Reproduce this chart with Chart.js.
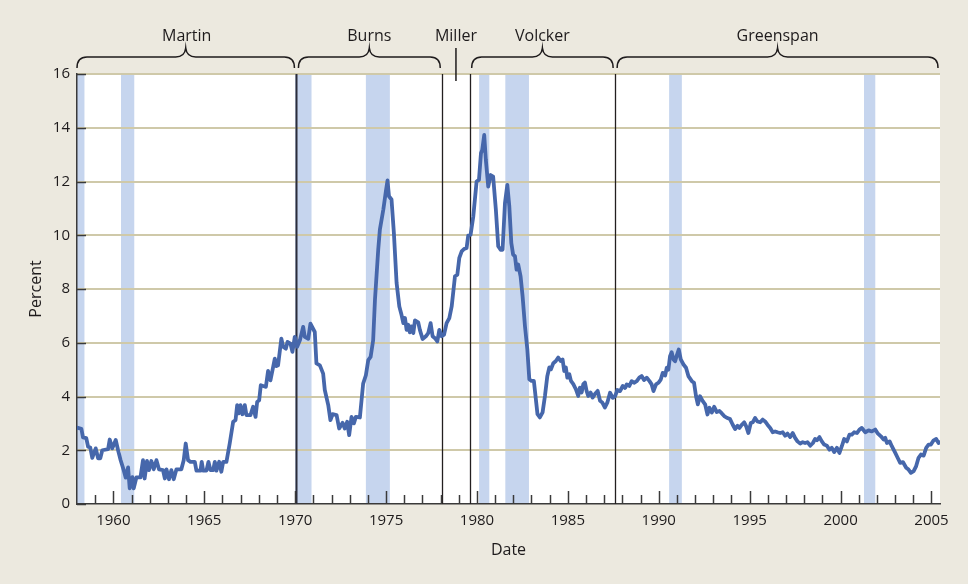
<!DOCTYPE html>
<html>
<head>
<meta charset="utf-8">
<script src="https://cdn.jsdelivr.net/npm/chart.js@4.4.1/dist/chart.umd.min.js"></script>
<style>
  body { margin: 0; background: #ece9df; }
  canvas { display: block; }
</style>
</head>
<body>
<canvas id="inflationChart" width="968" height="584"></canvas>
<script>
// decimal years and percent values
var dates = [
  1958.00, 1958.24, 1958.33, 1958.51, 1958.61, 1958.73, 1958.84, 1959.03, 1959.16, 1959.28,
  1959.39, 1959.71, 1959.80, 1959.94, 1960.13, 1960.26, 1960.40, 1960.57, 1960.68, 1960.81,
  1960.90, 1961.05, 1961.12, 1961.27, 1961.49, 1961.63, 1961.72, 1961.85, 1961.96, 1962.09,
  1962.22, 1962.37, 1962.51, 1962.73, 1962.83, 1962.92, 1963.06, 1963.19, 1963.32, 1963.47,
  1963.74, 1963.87, 1963.98, 1964.11, 1964.24, 1964.48, 1964.57, 1964.79, 1964.86, 1964.94,
  1965.12, 1965.23, 1965.34, 1965.49, 1965.58, 1965.67, 1965.82, 1965.94, 1966.04, 1966.22,
  1966.40, 1966.59, 1966.72, 1966.81, 1966.90, 1966.99, 1967.10, 1967.23, 1967.32, 1967.54,
  1967.69, 1967.82, 1967.91, 1968.02, 1968.11, 1968.28, 1968.39, 1968.51, 1968.64, 1968.79,
  1968.88, 1968.97, 1969.06, 1969.24, 1969.34, 1969.49, 1969.58, 1969.74, 1969.85, 1969.98,
  1970.11, 1970.26, 1970.44, 1970.53, 1970.72, 1970.84, 1971.08, 1971.17, 1971.36, 1971.54,
  1971.63, 1971.82, 1971.94, 1972.06, 1972.28, 1972.42, 1972.61, 1972.73, 1972.86, 1972.97,
  1973.10, 1973.23, 1973.34, 1973.56, 1973.74, 1973.89, 1974.02, 1974.15, 1974.29, 1974.39,
  1974.57, 1974.66, 1974.85, 1974.99, 1975.08, 1975.16, 1975.30, 1975.43, 1975.58, 1975.73,
  1975.85, 1975.95, 1976.04, 1976.13, 1976.22, 1976.31, 1976.40, 1976.50, 1976.59, 1976.77,
  1976.86, 1977.01, 1977.19, 1977.32, 1977.45, 1977.56, 1977.69, 1977.82, 1977.93, 1978.06,
  1978.19, 1978.33, 1978.48, 1978.61, 1978.79, 1978.92, 1979.03, 1979.16, 1979.29, 1979.43,
  1979.52, 1979.65, 1979.80, 1979.98, 1980.11, 1980.22, 1980.29, 1980.40, 1980.49, 1980.62,
  1980.75, 1980.89, 1981.04, 1981.17, 1981.30, 1981.41, 1981.54, 1981.67, 1981.78, 1981.89,
  1981.99, 1982.09, 1982.18, 1982.27, 1982.40, 1982.51, 1982.64, 1982.77, 1982.88, 1983.00,
  1983.13, 1983.24, 1983.33, 1983.46, 1983.61, 1983.74, 1983.87, 1983.98, 1984.07, 1984.20,
  1984.34, 1984.47, 1984.60, 1984.71, 1984.80, 1984.89, 1984.97, 1985.08, 1985.17, 1985.30,
  1985.44, 1985.57, 1985.66, 1985.76, 1985.85, 1985.94, 1986.03, 1986.12, 1986.25, 1986.36,
  1986.49, 1986.64, 1986.77, 1986.89, 1987.04, 1987.17, 1987.32, 1987.47, 1987.60, 1987.72,
  1987.87, 1988.02, 1988.15, 1988.24, 1988.38, 1988.51, 1988.64, 1988.79, 1988.93, 1989.06,
  1989.19, 1989.34, 1989.49, 1989.61, 1989.71, 1989.85, 1989.98, 1990.11, 1990.22, 1990.35,
  1990.44, 1990.53, 1990.62, 1990.71, 1990.81, 1990.90, 1990.99, 1991.10, 1991.21, 1991.36,
  1991.50, 1991.63, 1991.82, 1991.94, 1992.05, 1992.15, 1992.27, 1992.42, 1992.55, 1992.68,
  1992.79, 1992.92, 1993.05, 1993.19, 1993.34, 1993.47, 1993.60, 1993.74, 1993.92, 1994.07,
  1994.20, 1994.33, 1994.44, 1994.57, 1994.70, 1994.81, 1994.93, 1995.06, 1995.17, 1995.30,
  1995.43, 1995.58, 1995.72, 1995.85, 1995.98, 1996.13, 1996.27, 1996.40, 1996.53, 1996.68,
  1996.82, 1996.95, 1997.08, 1997.23, 1997.37, 1997.50, 1997.63, 1997.78, 1997.92, 1998.05,
  1998.18, 1998.33, 1998.48, 1998.60, 1998.70, 1998.84, 1998.97, 1999.10, 1999.25, 1999.39,
  1999.52, 1999.65, 1999.80, 1999.94, 2000.07, 2000.20, 2000.35, 2000.49, 2000.62, 2000.75,
  2000.90, 2001.04, 2001.17, 2001.36, 2001.54, 2001.72, 2001.91, 2002.03, 2002.22, 2002.37,
  2002.46, 2002.55, 2002.70, 2002.82, 2003.01, 2003.14, 2003.28, 2003.43, 2003.61, 2003.74,
  2003.87, 2004.02, 2004.16, 2004.29, 2004.42, 2004.57, 2004.71, 2004.84, 2004.97, 2005.12,
  2005.26, 2005.39, 2005.45
]
var rates = [
  2.84, 2.80, 2.48, 2.45, 2.13, 2.10, 1.72, 2.07, 1.70, 1.70,
  2.00, 2.04, 2.40, 2.07, 2.38, 2.00, 1.63, 1.26, 0.98, 1.36,
  0.58, 1.00, 0.58, 0.99, 0.99, 1.63, 0.95, 1.60, 1.26, 1.60,
  1.29, 1.63, 1.29, 1.26, 0.95, 1.29, 0.92, 1.26, 0.92, 1.29,
  1.29, 1.63, 2.25, 1.63, 1.57, 1.57, 1.24, 1.24, 1.57, 1.24,
  1.24, 1.57, 1.26, 1.26, 1.57, 1.24, 1.57, 1.20, 1.57, 1.57,
  2.25, 3.06, 3.12, 3.68, 3.37, 3.68, 3.34, 3.68, 3.31, 3.31,
  3.62, 3.24, 3.80, 3.86, 4.42, 4.38, 4.36, 4.95, 4.60, 5.10,
  5.41, 5.13, 5.16, 6.15, 5.85, 5.78, 6.03, 5.97, 5.66, 6.22,
  5.85, 6.09, 6.59, 6.22, 6.15, 6.71, 6.40, 5.23, 5.16, 4.85,
  4.24, 3.68, 3.12, 3.34, 3.31, 2.81, 3.02, 2.81, 3.06, 2.56,
  3.24, 3.00, 3.24, 3.22, 4.48, 4.79, 5.35, 5.47, 6.09, 7.60,
  9.47, 10.21, 10.96, 11.64, 12.04, 11.45, 11.33, 10.09, 8.22, 7.35,
  7.04, 6.73, 6.92, 6.48, 6.67, 6.39, 6.61, 6.36, 6.83, 6.76,
  6.48, 6.14, 6.24, 6.36, 6.73, 6.24, 6.17, 6.05, 6.48, 6.24,
  6.30, 6.73, 6.92, 7.35, 8.47, 8.53, 9.16, 9.40, 9.49, 9.53,
  9.99, 10.02, 10.71, 12.00, 12.06, 13.05, 13.17, 13.73, 12.80, 11.81,
  12.24, 12.18, 10.95, 9.59, 9.46, 9.46, 11.19, 11.87, 11.07, 9.71,
  9.28, 9.22, 8.72, 8.91, 8.47, 7.73, 6.62, 5.76, 4.64, 4.58,
  4.58, 3.90, 3.34, 3.22, 3.41, 4.02, 4.76, 5.08, 5.01, 5.24,
  5.32, 5.45, 5.32, 5.38, 4.95, 5.08, 4.70, 4.83, 4.58, 4.46,
  4.27, 4.02, 4.33, 4.15, 4.46, 4.52, 4.21, 4.02, 4.15, 3.96,
  4.09, 4.21, 3.84, 3.78, 3.59, 3.77, 4.14, 3.95, 4.01, 4.24,
  4.20, 4.39, 4.32, 4.45, 4.39, 4.57, 4.51, 4.57, 4.70, 4.76,
  4.61, 4.70, 4.57, 4.45, 4.20, 4.45, 4.51, 4.63, 4.88, 4.78,
  5.07, 5.00, 5.50, 5.65, 5.38, 5.31, 5.52, 5.75, 5.38, 5.19,
  5.07, 4.76, 4.57, 4.51, 4.01, 3.71, 4.01, 3.83, 3.71, 3.33,
  3.58, 3.40, 3.62, 3.42, 3.46, 3.37, 3.27, 3.21, 3.16, 2.95,
  2.79, 2.91, 2.83, 2.95, 3.04, 2.89, 2.64, 3.01, 3.04, 3.20,
  3.07, 3.04, 3.14, 3.07, 2.95, 2.83, 2.67, 2.70, 2.67, 2.64,
  2.67, 2.54, 2.62, 2.49, 2.64, 2.46, 2.33, 2.25, 2.30, 2.27,
  2.30, 2.17, 2.27, 2.42, 2.37, 2.49, 2.33, 2.21, 2.17, 2.02,
  2.09, 1.93, 2.09, 1.90, 2.15, 2.42, 2.33, 2.58, 2.58, 2.67,
  2.64, 2.77, 2.83, 2.67, 2.74, 2.70, 2.77, 2.64, 2.52, 2.40,
  2.46, 2.27, 2.33, 2.15, 1.90, 1.72, 1.53, 1.56, 1.35, 1.28,
  1.16, 1.22, 1.41, 1.72, 1.84, 1.80, 2.09, 2.21, 2.21, 2.37,
  2.42, 2.27, 2.30
]

var recessionStart = [1958.0, 1960.42, 1970.0, 1973.89, 1980.12, 1981.56, 1990.57, 2001.29]
var recessionEnd = [1958.41, 1961.15, 1970.9, 1975.21, 1980.68, 1982.86, 1991.27, 2001.91]

var chairNames = ['Martin', 'Burns', 'Miller', 'Volcker', 'Greenspan']
var chairStart = [1958.0, 1970.07, 1978.09, 1979.6, 1987.6]
var chairEnd = [1970.07, 1978.09, 1979.6, 1987.6, 2005.47]

var xTickLabels = [1960, 1965, 1970, 1975, 1980, 1985, 1990, 1995, 2000, 2005]
var yTickLabels = [0, 2, 4, 6, 8, 10, 12, 14, 16]

var xMin = 1958, xMax = 2005.47

var points = dates.map(function(d, i) { return { x: d, y: rates[i] } })

var fontFamily = "'Open Sans', 'Noto Sans', sans-serif"
var inkColor = '#1e1b1c'

function drawBrace(ctx, x1, x2) {
    var mid = (x1 + x2) / 2
    var yLine = 57, yEnd = 68, yPeak = 48, r = 10
    ctx.beginPath()
    ctx.moveTo(x1, yEnd)
    ctx.quadraticCurveTo(x1, yLine, x1 + r, yLine)
    ctx.lineTo(mid - r, yLine)
    ctx.quadraticCurveTo(mid - 1, yLine, mid, yPeak)
    ctx.quadraticCurveTo(mid + 1, yLine, mid + r, yLine)
    ctx.lineTo(x2 - r, yLine)
    ctx.quadraticCurveTo(x2, yLine, x2, yEnd)
    ctx.stroke()
}

const decorations = {
    id: 'decorations',
    beforeDraw(chart) {
        const ctx = chart.ctx
        const area = chart.chartArea
        const x = chart.scales.x
        ctx.save()
        ctx.fillStyle = '#ece9df'
        ctx.fillRect(0, 0, chart.width, chart.height)
        ctx.fillStyle = '#ffffff'
        ctx.fillRect(area.left, area.top, area.right - area.left, area.bottom - area.top)
        // recession bands
        ctx.fillStyle = '#c6d5ee'
        for (let i = 0; i < recessionStart.length; i++) {
            var a = x.getPixelForValue(recessionStart[i])
            var b = x.getPixelForValue(recessionEnd[i])
            ctx.fillRect(a, area.top, b - a, area.bottom - area.top)
        }
        ctx.restore()
    },
    beforeDatasetsDraw(chart) {
        const ctx = chart.ctx
        const area = chart.chartArea
        const x = chart.scales.x
        const y = chart.scales.y
        ctx.save()
        // chairman boundaries
        for (let i = 1; i < chairStart.length; i++) {
            var px = Math.round(x.getPixelForValue(chairStart[i])) + 0.5
            ctx.strokeStyle = i == 1 ? '#2b2d3a' : '#231f20'
            ctx.lineWidth = i == 1 ? 2 : 1.3
            ctx.beginPath()
            ctx.moveTo(px, area.top)
            ctx.lineTo(px, area.bottom)
            ctx.stroke()
        }
        // inward tick marks
        ctx.strokeStyle = '#3a3a3a'
        ctx.lineWidth = 1.5
        for (let yr = 1959; yr <= 2005; yr++) {
            var tx = Math.round(x.getPixelForValue(yr)) + 0.5
            var len = yr % 5 == 0 ? 13 : 9
            ctx.beginPath()
            ctx.moveTo(tx, area.bottom)
            ctx.lineTo(tx, area.bottom - len)
            ctx.stroke()
        }
        yTickLabels.forEach(function(v) {
            var ty = Math.round(y.getPixelForValue(v)) + 0.5
            ctx.beginPath()
            ctx.moveTo(area.left, ty)
            ctx.lineTo(area.left + 9, ty)
            ctx.stroke()
        })
        ctx.restore()
    },
    afterDraw(chart) {
        const ctx = chart.ctx
        const x = chart.scales.x
        ctx.save()
        ctx.strokeStyle = inkColor
        ctx.fillStyle = inkColor
        ctx.lineWidth = 1.5
        ctx.font = '16px ' + fontFamily
        ctx.textAlign = 'center'
        ctx.textBaseline = 'alphabetic'
        for (let i = 0; i < chairNames.length; i++) {
            var x1 = x.getPixelForValue(chairStart[i])
            var x2 = x.getPixelForValue(chairEnd[i])
            var mid = (x1 + x2) / 2
            if (chairNames[i] == 'Miller') {
                ctx.beginPath()
                ctx.moveTo(mid, 48)
                ctx.lineTo(mid, 81)
                ctx.stroke()
            } else {
                drawBrace(ctx, x1 + (i == 0 ? 0 : 2), x2 - 2)
            }
            ctx.fillText(chairNames[i], mid, 41)
        }
        ctx.restore()
    }
}

const ctx = document.getElementById('inflationChart').getContext('2d')

const chart = new Chart(ctx, {
    type: 'line',
    data: {
        datasets: [
            {
                data: points,
                borderColor: '#4667ab',
                borderWidth: 3.8,
                pointRadius: 0,
                tension: 0,
                borderJoinStyle: 'round',
                borderCapStyle: 'round'
            }
        ]
    },
    options: {
        responsive: false,
        animation: false,
        devicePixelRatio: 1,
        layout: {
            padding: { top: 74, right: 28, left: 0, bottom: 0 }
        },
        plugins: {
            legend: { display: false },
            tooltip: { enabled: false }
        },
        scales: {
            x: {
                type: 'linear',
                min: xMin,
                max: xMax,
                afterBuildTicks: function(scale) {
                    scale.ticks = xTickLabels.map(function(v) { return { value: v } })
                },
                afterFit: function(scale) { scale.height = 80 },
                grid: { display: false, drawTicks: false },
                border: { display: true, color: '#3a3a3a', width: 1.5 },
                ticks: {
                    autoSkip: false,
                    maxRotation: 0,
                    padding: 8,
                    color: inkColor,
                    font: { family: fontFamily, size: 15 },
                    callback: function(v) { return String(v) }
                },
                title: {
                    display: true,
                    text: 'Date',
                    color: inkColor,
                    font: { family: fontFamily, size: 16 },
                    padding: { top: 0, bottom: 24 }
                }
            },
            y: {
                min: 0,
                max: 16,
                afterBuildTicks: function(scale) {
                    scale.ticks = yTickLabels.map(function(v) { return { value: v } })
                },
                afterFit: function(scale) { scale.width = 77 },
                grid: {
                    drawTicks: false,
                    lineWidth: 2,
                    color: function(c) { return c.tick && c.tick.value == 0 ? 'rgba(0,0,0,0)' : '#cfc9a9' }
                },
                border: { display: true, color: '#3a3a3a', width: 1.5 },
                ticks: {
                    padding: 7,
                    color: inkColor,
                    font: { family: fontFamily, size: 15 }
                },
                title: {
                    display: true,
                    text: 'Percent',
                    color: inkColor,
                    font: { family: fontFamily, size: 16 },
                    padding: { top: 27, bottom: 0 }
                }
            }
        }
    },
    plugins: [decorations]
})
</script>
</body>
</html>
